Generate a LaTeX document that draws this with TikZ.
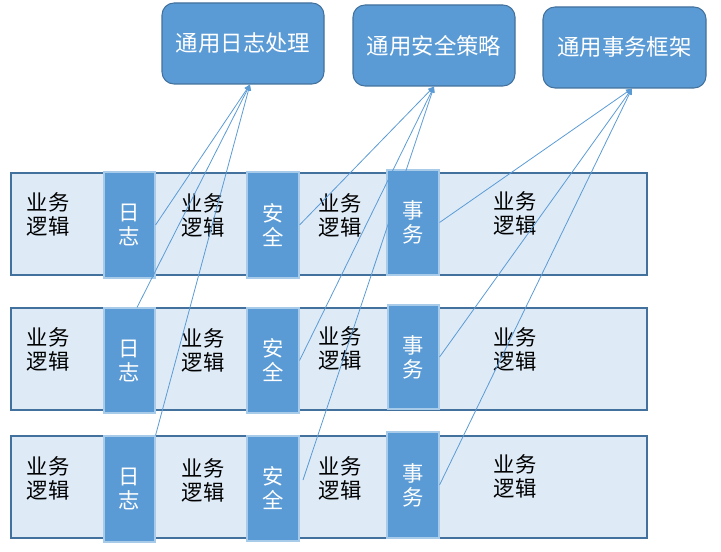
\documentclass[tikz,border=0pt]{standalone}
\usepackage{fontspec}
\newfontfamily\cjk{Noto Sans CJK SC}
\usetikzlibrary{arrows.meta,calc}
\definecolor{mainblue}{HTML}{5B9BD5}
\definecolor{darkborder}{HTML}{41719C}
\definecolor{lightfill}{HTML}{DEEBF7}
\definecolor{lightborder}{HTML}{A9CBEA}
\begin{document}
\begin{tikzpicture}[x=0.75pt,y=-0.75pt,
  cjkfont/.style={font=\cjk\fontsize{16}{18}\selectfont},
  topbox/.style={draw=darkborder, fill=mainblue, rounded corners=9pt, text=white, font=\cjk\fontsize{16.8}{19}\selectfont, inner sep=0pt, line width=0.8pt, minimum height=81*0.75pt},
  rowbox/.style={draw=darkborder, fill=lightfill, line width=0.8pt, inner sep=0pt, minimum width=636*0.75pt, minimum height=102*0.75pt},
  tagbox/.style={draw=lightborder, fill=mainblue, text=white, cjkfont, align=center, inner sep=0pt, line width=0.8pt},
  biz/.style={cjkfont, align=center, inner sep=0pt, text=black},
  conn/.style={draw=mainblue, line width=0.6pt, -{Triangle[length=4.5pt,width=4pt]}}
]
\useasboundingbox (0,0) rectangle (721,552);

% top boxes
\node[topbox, minimum width=162*0.75pt] (t1) at (243,43.5) {通用日志处理};
\node[topbox, minimum width=162*0.75pt] (t2) at (434,45.5) {通用安全策略};
\node[topbox, minimum width=163*0.75pt] (t3) at (624.5,47.5) {通用事务框架};

% rows
\node[rowbox] (r1) at (329,224) {};
\node[rowbox] (r2) at (329,359) {};
\node[rowbox] (r3) at (329,487) {};

% tags row 1
\node[tagbox, minimum width=51*0.75pt, minimum height=106*0.75pt] (l1) at (129.5,225) {日\\志};
\node[tagbox, minimum width=52*0.75pt, minimum height=106*0.75pt] (s1) at (273,225) {安\\全};
\node[tagbox, minimum width=52*0.75pt, minimum height=105*0.75pt] (e1) at (413,222.5) {事\\务};
% tags row 2
\node[tagbox, minimum width=51*0.75pt, minimum height=105*0.75pt] (l2) at (129.5,360.5) {日\\志};
\node[tagbox, minimum width=52*0.75pt, minimum height=105*0.75pt] (s2) at (273,360.5) {安\\全};
\node[tagbox, minimum width=51*0.75pt, minimum height=104*0.75pt] (e2) at (413.5,357) {事\\务};
% tags row 3
\node[tagbox, minimum width=51*0.75pt, minimum height=106*0.75pt] (l3) at (129.5,489) {日\\志};
\node[tagbox, minimum width=52*0.75pt, minimum height=105*0.75pt] (s3) at (273,488.5) {安\\全};
\node[tagbox, minimum width=52*0.75pt, minimum height=106*0.75pt] (e3) at (413,485) {事\\务};

% business texts
\node[biz] (b11) at (48,214) {业务\\逻辑};
\node[biz] (b12) at (203,215) {业务\\逻辑};
\node[biz] (b13) at (340,215) {业务\\逻辑};
\node[biz] (b14) at (515,213) {业务\\逻辑};
\node[biz] (b21) at (48,349) {业务\\逻辑};
\node[biz] (b22) at (203,350) {业务\\逻辑};
\node[biz] (b23) at (340,348) {业务\\逻辑};
\node[biz] (b24) at (515,349) {业务\\逻辑};
\node[biz] (b31) at (48,478) {业务\\逻辑};
\node[biz] (b32) at (203,480) {业务\\逻辑};
\node[biz] (b33) at (340,478) {业务\\逻辑};
\node[biz] (b34) at (515,476) {业务\\逻辑};

% connector endpoints
\coordinate (c3) at (303,480);

% connectors to log handling
\draw[conn] (l1.east) -- ($(t1.south)+(7,0)$);
\draw[conn] ($(l2.north)+(7.5,0)$) -- ($(t1.south)+(7,0)$);
\draw[conn] (l3.north east) -- ($(t1.south)+(7,0)$);
% connectors to security policy
\draw[conn] (s1.east) -- (t2.south);
\draw[conn] (s2.east) -- (t2.south);
\draw[conn] (c3) -- (t2.south);
% connectors to transaction framework
\draw[conn] (e1.east) -- ($(t3.south)+(7.5,0)$);
\draw[conn] (e2.east) -- ($(t3.south)+(7.5,0)$);
\draw[conn] (e3.east) -- ($(t3.south)+(7.5,0)$);
\end{tikzpicture}
\end{document}
